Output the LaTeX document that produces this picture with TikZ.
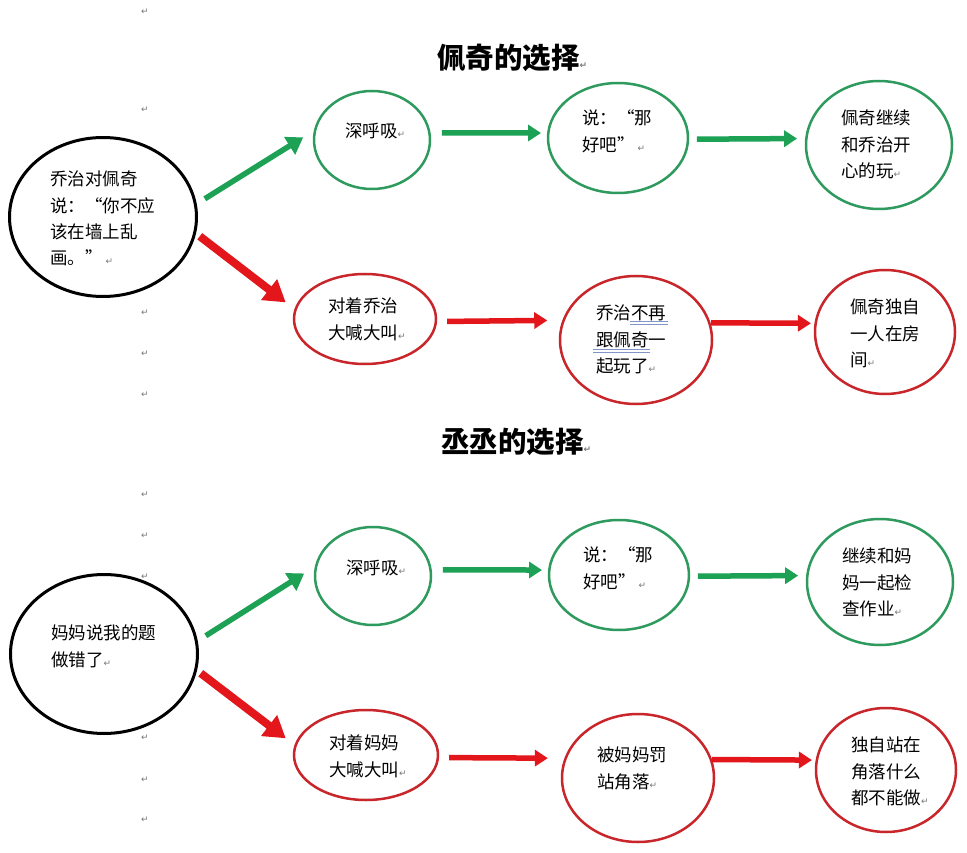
\documentclass[tikz,border=0pt]{standalone}
\usepackage{fontspec}
\usetikzlibrary{shapes.geometric,arrows.meta}
\newfontfamily\cjk{Noto Sans CJK SC}
\newfontfamily\dvs{DejaVu Sans}
\definecolor{eg}{HTML}{2E9A5E}
\definecolor{ag}{HTML}{1DA155}
\definecolor{er}{HTML}{C8262A}
\definecolor{ar}{HTML}{E3161B}
\definecolor{ulc}{HTML}{8295C8}
\definecolor{pmgray}{HTML}{777777}
\newcommand\fstrut{\rule{0pt}{16pt}}
\newcommand\qL{\makebox[1em][r]{“}}
\newcommand\qR{\makebox[1em][l]{”}}
\newcommand\pmk{{\dvs\fontsize{9}{9}\selectfont\textcolor{pmgray}{↵}}}
\begin{document}
\begin{tikzpicture}[x=1pt,y=-1pt,
  bell/.style={ellipse, draw=black, line width=3pt, inner sep=0pt},
  gell/.style={ellipse, draw=eg, line width=2.5pt, inner sep=0pt},
  rell/.style={ellipse, draw=er, line width=2.5pt, inner sep=0pt},
  txt/.style={font=\cjk\fontsize{17.5}{26.3}\selectfont, align=left, inner sep=0pt, anchor=north west},
  ttl/.style={font=\cjk\bfseries\fontsize{28.5}{30}\selectfont, inner sep=0pt, anchor=base west},
  pmn/.style={font=\dvs\fontsize{9}{9}\selectfont, text=pmgray, inner sep=0pt},
  gdarr/.style={draw=ag, line width=5.5pt, -{Triangle[length=16pt,width=20pt]}},
  rdarr/.style={draw=ar, line width=8pt, -{Triangle[length=21pt,width=25pt]}},
  garr/.style={draw=ag, line width=5.5pt, -{Triangle[length=13pt,width=16pt]}},
  rarr/.style={draw=ar, line width=5.5pt, -{Triangle[length=13pt,width=16pt]}},
  ulst/.style={draw=ulc, line width=0.9pt}
]
\useasboundingbox[fill=white] (0,0) rectangle (967,853);

% titles
\node[ttl] (t1) at (437,68.5) {佩奇的选择\pmk};
\node[ttl] (t2) at (441,452.5) {丞丞的选择\pmk};

% paragraph marks
\node[pmn] (p1) at (145,12) {↵};
\node[pmn] (p2) at (145,110) {↵};
\node[pmn] (p3) at (145,313) {↵};
\node[pmn] (p4) at (145,354) {↵};
\node[pmn] (p5) at (145,395) {↵};
\node[pmn] (p6) at (145,495) {↵};
\node[pmn] (p7) at (145,536) {↵};
\node[pmn] (p8) at (145,577) {↵};
\node[pmn] (p9) at (145,738) {↵};
\node[pmn] (p10) at (145,780) {↵};
\node[pmn] (p11) at (145,820) {↵};

% top ellipses
\node[bell, minimum width=187pt, minimum height=159pt] (b1) at (103,217) {};
\node[gell, minimum width=116pt, minimum height=98pt] (g1) at (372,140) {};
\node[rell, minimum width=142pt, minimum height=90pt] (r1) at (365,319) {};
\node[gell, minimum width=140pt, minimum height=110pt] (g2) at (618,138) {};
\node[gell, minimum width=146pt, minimum height=128pt] (g3) at (879,145) {};
\node[rell, minimum width=152pt, minimum height=128pt] (r2) at (636,340) {};
\node[rell, minimum width=140pt, minimum height=124pt] (r3) at (885,332) {};

% bottom ellipses
\node[bell, minimum width=187pt, minimum height=159pt] (b2) at (104,654) {};
\node[gell, minimum width=116pt, minimum height=98pt] (g4) at (373,576) {};
\node[rell, minimum width=144pt, minimum height=90pt] (r4) at (366,755) {};
\node[gell, minimum width=140pt, minimum height=110pt] (g5) at (619,575) {};
\node[gell, minimum width=146pt, minimum height=126pt] (g6) at (880,582) {};
\node[rell, minimum width=152pt, minimum height=128pt] (r5) at (638,778) {};
\node[rell, minimum width=140pt, minimum height=124pt] (r6) at (886,770) {};

% top texts
\node[txt] (x1) at (50,169.6) {\fstrut 乔治对佩奇\\说：\qL 你不应\\该在墙上乱\\画。\qR\,\pmk};
\node[txt] (x2) at (345,121.6) {\fstrut 深呼吸\pmk};
\node[txt] (x3) at (328,296.6) {\fstrut 对着乔治\\大喊大叫\pmk};
\node[txt] (x4) at (582,108.6) {\fstrut 说：\qL 那\\好吧\qR\,\pmk};
\node[txt] (x5) at (841,108.6) {\fstrut 佩奇继续\\和乔治开\\心的玩\pmk};
\node[txt] (x6) at (596,303.6) {\fstrut 乔治不再\\跟佩奇一\\起玩了\pmk};
\node[txt] (x7) at (850,297.6) {\fstrut 佩奇独自\\一人在房\\间\pmk};

% bottom texts
\node[txt] (y1) at (51,623.6) {\fstrut 妈妈说我的题\\做错了\pmk};
\node[txt] (y2) at (346,558.6) {\fstrut 深呼吸\pmk};
\node[txt] (y3) at (329,733.6) {\fstrut 对着妈妈\\大喊大叫\pmk};
\node[txt] (y4) at (583,545.6) {\fstrut 说：\qL 那\\好吧\qR\,\pmk};
\node[txt] (y5) at (842,546.6) {\fstrut 继续和妈\\妈一起检\\查作业\pmk};
\node[txt] (y6) at (597,745.6) {\fstrut 被妈妈罚\\站角落\pmk};
\node[txt] (y7) at (851,735.6) {\fstrut 独自站在\\角落什么\\都不能做\pmk};

% grammar underlines
\draw[ulst] (630,321.5) -- (668,321.5);
\draw[ulst] (630,324) -- (668,324);
\draw[ulst] (593,349.5) -- (650,349.5);
\draw[ulst] (593,352) -- (650,352);

% top arrows
\draw[gdarr, shorten <=9.5pt, shorten >=12.5pt] (b1.8) -- (g1.171);
\draw[rdarr, shorten <=4.7pt, shorten >=11pt] (b1.350) -- (r1.172);
\draw[garr, shorten <=11.3pt, shorten >=6pt] (g1.7) -- (g2.176);
\draw[garr, shorten <=7.75pt, shorten >=8pt] (g2.359) -- (g3.175);
\draw[rarr, shorten <=9.9pt, shorten >=15.1pt] (r1.358) -- (r2.165);
\draw[rarr, shorten <=0.5pt, shorten >=3.5pt] (r2.13) -- (r3.173);

% bottom arrows
\draw[gdarr, shorten <=9.5pt, shorten >=12.5pt] (b2.8) -- (g4.171);
\draw[rdarr, shorten <=4.7pt, shorten >=11pt] (b2.350) -- (r4.172);
\draw[garr, shorten <=11.1pt, shorten >=6pt] (g4.6) -- (g5.176);
\draw[garr, shorten <=7.75pt, shorten >=8pt] (g5.359) -- (g6.175);
\draw[rarr, shorten <=10pt, shorten >=16.5pt] (r4.358) -- (r5.165);
\draw[rarr, shorten <=0pt, shorten >=3.7pt] (r5.14) -- (r6.172);
\end{tikzpicture}
\end{document}
